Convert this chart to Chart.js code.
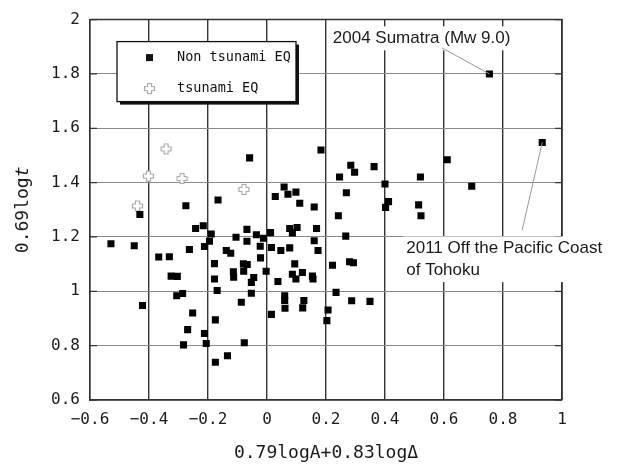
<!DOCTYPE html>
<html><head><meta charset="utf-8">
<script src="https://cdn.jsdelivr.net/npm/chart.js@4.4.1/dist/chart.umd.min.js"></script>
<style>html,body{margin:0;padding:0;background:#fff}#wrap{width:622px;height:466px;position:relative}</style>
</head><body><div id="wrap"><canvas id="c" width="622" height="466"></canvas></div>
<script>
// ---- data ----
const seriesNames = ['Non tsunami EQ', 'tsunami EQ'];
const nonTsunamiX = [-0.431,-0.275,-0.166,-0.059,0.183,0.028,0.058,0.071,0.098,0.111,0.160,0.242,0.246,0.284,0.297,0.363,0.400,0.520,0.611,0.694,
  0.754,0.933,0.269,0.412,0.402,0.514,0.522,0.267,0.280,0.293,0.222,0.234,0.287,0.349,0.207,0.203,
  -0.529,-0.450,-0.242,-0.216,-0.263,-0.367,-0.331,-0.325,-0.304,-0.306,-0.286,-0.422,-0.252,-0.269,-0.283,-0.212,-0.206,-0.175,-0.175,-0.134,-0.077,-0.087,
  -0.189,-0.195,-0.212,-0.105,-0.068,-0.068,-0.036,-0.012,-0.023,0.012,0.015,0.047,0.077,0.077,0.102,0.086,0.168,0.160,0.173,
  -0.138,-0.123,-0.178,-0.178,-0.169,-0.114,-0.113,-0.080,-0.067,-0.079,-0.045,-0.053,-0.053,-0.022,-0.003,0.037,0.094,0.086,0.098,0.120,0.154,0.156,
  0.060,0.060,0.061,0.125,0.121,0.015];
const nonTsunamiY = [1.283,1.315,1.336,1.491,1.520,1.349,1.384,1.357,1.365,1.324,1.310,1.278,1.421,1.464,1.438,1.459,1.395,1.421,1.484,1.387,
  1.800,1.548,1.363,1.330,1.309,1.318,1.278,1.203,1.109,1.105,1.096,0.996,0.965,0.963,0.931,0.892,
  1.175,1.168,1.231,1.241,1.154,1.126,1.127,1.056,1.055,0.984,0.992,0.948,0.920,0.859,0.803,0.845,0.808,0.895,0.739,0.763,0.811,0.960,
  1.211,1.184,1.165,1.199,1.228,1.184,1.208,1.195,1.166,1.216,1.161,1.150,1.160,1.231,1.235,1.215,1.231,1.186,1.150,
  1.150,1.140,1.102,1.045,1.003,1.072,1.052,1.101,1.099,1.074,1.051,1.033,0.993,1.123,1.074,1.036,1.101,1.063,1.045,1.069,1.056,1.045,
  0.984,0.966,0.938,0.966,0.939,0.915];
const tsunamiX = [-0.342,-0.402,-0.288,-0.439,-0.078];
const tsunamiY = [1.524,1.424,1.415,1.314,1.375];
const xTickLabels = ['\u22120.6','\u22120.4','\u22120.2','0','0.2','0.4','0.6','0.8','1'];
const yTickLabels = ['0.6','0.8','1','1.2','1.4','1.6','1.8','2'];
const xTitle = '0.79logA+0.83log\u0394';
const yTitleMain = '0.69log';
const yTitleVar = 't';
// labelled events: index into the non-tsunami arrays
const eventLabels = [['2004 Sumatra (Mw 9.0)'], ['2011 Off the Pacific Coast', 'of Tohoku']];
const eventIndex = [20, 21];
// label anchors (data units): text left/top-line centre and leader start
const eventTextAt = [[0.223, 1.931], [0.472, 1.1575]];
const eventLeaderFrom = [[0.593, 1.896], [0.865, 1.2255]];

// ---- styles ----
const MONO = '"DejaVu Sans Mono", "Liberation Mono", monospace';
const SANS = '"Liberation Sans", Arial, sans-serif';

const plusImg = (() => {
  const s = 13, c = document.createElement('canvas'); c.width = s; c.height = s;
  const g = c.getContext('2d'); const m = 6.5, a = 2, L = 5;
  g.beginPath();
  g.moveTo(m-a, m-L); g.lineTo(m+a, m-L); g.lineTo(m+a, m-a); g.lineTo(m+L, m-a); g.lineTo(m+L, m+a);
  g.lineTo(m+a, m+a); g.lineTo(m+a, m+L); g.lineTo(m-a, m+L); g.lineTo(m-a, m+a); g.lineTo(m-L, m+a);
  g.lineTo(m-L, m-a); g.lineTo(m-a, m-a); g.closePath();
  g.fillStyle = '#fff'; g.fill(); g.strokeStyle = '#a8a8a8'; g.lineWidth = 1.2; g.stroke();
  return c;
})();

const framePlugin = {
  id: 'frame',
  beforeDatasetsDraw(chart) {
    const {ctx, chartArea: {left, right, top, bottom}} = chart;
    const y = chart.scales.y;
    ctx.save();
    ctx.strokeStyle = '#333'; ctx.lineWidth = 1.5;
    ctx.beginPath(); ctx.moveTo(left, top); ctx.lineTo(right, top); ctx.lineTo(right, bottom); ctx.stroke();
    ctx.lineWidth = 1.3;
    y.ticks.forEach(t => {
      const py = y.getPixelForValue(t.value);
      ctx.beginPath(); ctx.moveTo(left, py); ctx.lineTo(left + 7, py);
      ctx.moveTo(right - 7, py); ctx.lineTo(right, py); ctx.stroke();
    });
    ctx.restore();
  }
};

const overlayPlugin = {
  id: 'overlay',
  afterDatasetsDraw(chart) {
    const {ctx, chartArea: {left, top}} = chart;
    const xs = chart.scales.x, ys = chart.scales.y;
    const meta = chart.getDatasetMeta(0);
    ctx.save();
    // event labels
    eventLabels.forEach((lines, i) => {
      ctx.font = '17px ' + SANS;
      const tx = xs.getPixelForValue(eventTextAt[i][0]);
      const ty = ys.getPixelForValue(eventTextAt[i][1]);
      const lh = 21.6;
      const w = Math.max(...lines.map(l => ctx.measureText(l).width));
      ctx.fillStyle = '#fff';
      ctx.fillRect(tx - 3, ty - 12, w + 6, lh * (lines.length - 1) + 24);
      const el = meta.data[eventIndex[i]];
      ctx.strokeStyle = '#999'; ctx.lineWidth = 1;
      ctx.beginPath();
      ctx.moveTo(xs.getPixelForValue(eventLeaderFrom[i][0]), ys.getPixelForValue(eventLeaderFrom[i][1]));
      ctx.lineTo(el.x, el.y); ctx.stroke();
      ctx.fillStyle = '#1a1a1a'; ctx.textBaseline = 'middle'; ctx.textAlign = 'left';
      lines.forEach((l, k) => ctx.fillText(l, tx, ty + k * lh));
    });
    // legend box
    const bx = left + 27, by = top + 22, bw = 179, bh = 60;
    ctx.fillStyle = '#111'; ctx.fillRect(bx + 3, by + 3, bw, bh);
    ctx.fillStyle = '#fff'; ctx.fillRect(bx, by, bw, bh);
    ctx.strokeStyle = '#111'; ctx.lineWidth = 1.3; ctx.strokeRect(bx, by, bw, bh);
    ctx.font = '13.5px ' + MONO; ctx.fillStyle = '#111'; ctx.textBaseline = 'middle';
    const r1 = by + 16, r2 = by + 47;
    ctx.fillRect(bx + 29, r1 - 3.5, 7, 7);
    ctx.drawImage(plusImg, bx + 32.5 - 6.5, r2 - 6.5);
    ctx.fillText(seriesNames[0], bx + 60, r1);
    ctx.fillText(seriesNames[1], bx + 60, r2);
    ctx.restore();
  },
  afterDraw(chart) {
    const {ctx, chartArea: {top, bottom}} = chart;
    ctx.save();
    ctx.translate(23, (top + bottom) / 2);
    ctx.rotate(-Math.PI / 2);
    const f1 = '18px ' + MONO, f2 = 'italic 18px ' + MONO;
    ctx.font = f1; const w1 = ctx.measureText(yTitleMain).width;
    ctx.font = f2; const w2 = ctx.measureText(yTitleVar).width;
    const x0 = -(w1 + w2) / 2;
    ctx.fillStyle = '#1a1a1a'; ctx.textBaseline = 'middle'; ctx.textAlign = 'left';
    ctx.font = f1; ctx.fillText(yTitleMain, x0, 0);
    ctx.font = f2; ctx.fillText(yTitleVar, x0 + w1, 0);
    ctx.restore();
  }
};

new Chart(document.getElementById('c'), {
  type: 'scatter',
  data: {
    datasets: [
      { label: seriesNames[0], data: nonTsunamiX.map((x, i) => ({x, y: nonTsunamiY[i]})),
        pointStyle: 'rect', pointRadius: 5, pointBorderWidth: 0, backgroundColor: '#000', borderColor: '#000' },
      { label: seriesNames[1], data: tsunamiX.map((x, i) => ({x, y: tsunamiY[i]})),
        pointStyle: plusImg, pointRadius: 5, backgroundColor: '#fff', borderColor: '#aaa' }
    ]
  },
  options: {
    responsive: false, animation: false, devicePixelRatio: 1,
    layout: { padding: { top: 14, right: 60, left: 0, bottom: 0 } },
    plugins: { legend: { display: false }, tooltip: { enabled: false } },
    scales: {
      x: {
        type: 'linear', min: -0.6, max: 1,
        afterFit: s => { s.height = 66; },
        ticks: { stepSize: 0.2, padding: 10, color: '#1a1a1a', font: { family: MONO, size: 16 },
          callback: (v, i) => xTickLabels[i] },
        grid: { color: '#333', lineWidth: 1.4, drawTicks: false },
        border: { display: true, color: '#333', width: 1.5 },
        title: { display: true, text: xTitle, color: '#1a1a1a', font: { family: MONO, size: 18 }, padding: { top: 0, bottom: 2 } }
      },
      y: {
        type: 'linear', min: 0.6, max: 2,
        afterFit: s => { s.width = 90; },
        ticks: { stepSize: 0.2, padding: 10, color: '#1a1a1a', font: { family: MONO, size: 16 },
          callback: (v, i) => yTickLabels[i] },
        grid: { color: '#8a8a8a', lineWidth: 1, drawTicks: false },
        border: { display: true, color: '#333', width: 1.5 }
      }
    }
  },
  plugins: [framePlugin, overlayPlugin]
});
</script>
</body></html>
